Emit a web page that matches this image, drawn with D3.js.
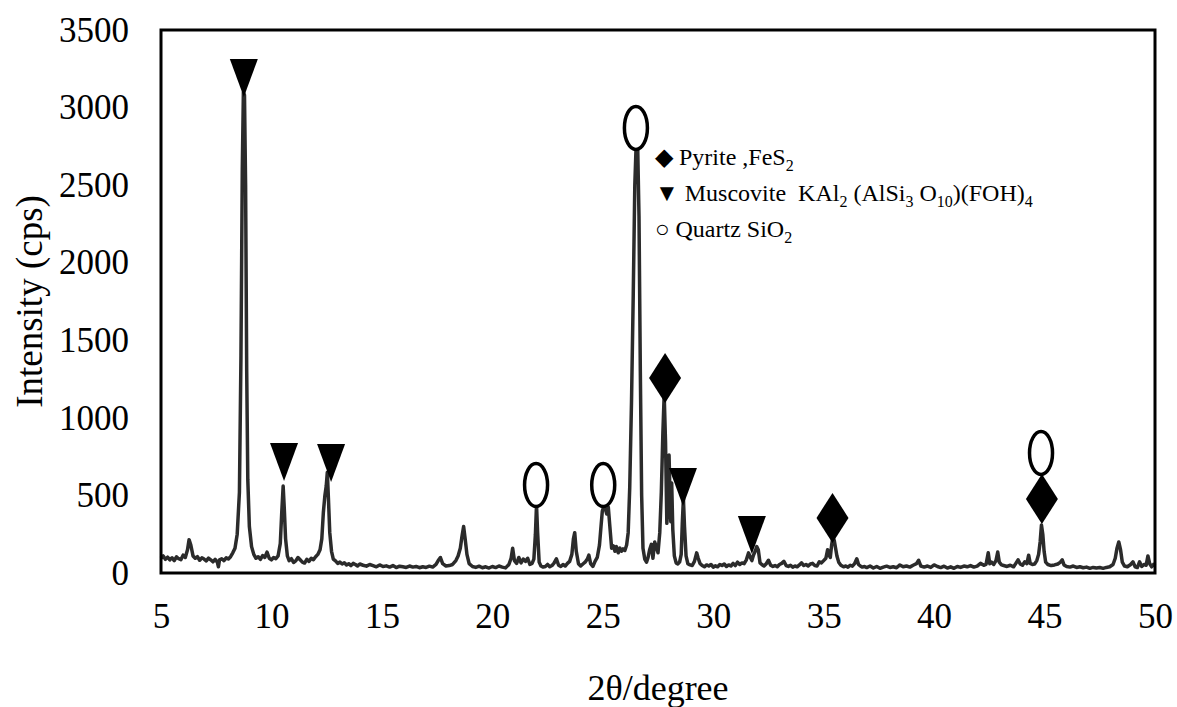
<!DOCTYPE html>
<html>
<head>
<meta charset="utf-8">
<script src="https://cdn.jsdelivr.net/npm/d3@7/dist/d3.min.js"></script>
<style>
  body { margin: 0; background: #fff; }
  svg text { font-family: "Liberation Serif", "Times New Roman", serif; }
</style>
</head>
<body>
<div id="chart"></div>
<script>
// XRD pattern, 2theta (degree) and intensity (cps)
const twoTheta = [
  5.0, 5.1, 5.2, 5.3, 5.4, 5.5, 5.6, 5.7, 5.8, 5.9, 6.0, 6.1, 6.2, 6.27, 6.35, 6.45, 6.55, 6.65, 6.75, 6.85,
  6.95, 7.05, 7.15, 7.25, 7.35, 7.45, 7.55, 7.6, 7.65, 7.75, 7.85, 7.95, 8.05, 8.15, 8.25, 8.35, 8.45, 8.55, 8.62, 8.68,
  8.73, 8.78, 8.83, 8.88, 8.93, 9.0, 9.1, 9.2, 9.3, 9.4, 9.5, 9.6, 9.7, 9.8, 9.9, 10.0, 10.1, 10.2, 10.3, 10.4,
  10.47, 10.53, 10.58, 10.64, 10.72, 10.8, 10.9, 11.0, 11.1, 11.2, 11.3, 11.4, 11.5, 11.6, 11.7, 11.8, 11.9, 12.0, 12.1, 12.2,
  12.28, 12.35, 12.42, 12.48, 12.53, 12.58, 12.64, 12.72, 12.8, 12.9, 13.0, 13.1, 13.2, 13.3, 13.4, 13.5, 13.6, 13.7, 13.8, 13.9,
  14.0, 14.15, 14.3, 14.45, 14.6, 14.75, 14.9, 15.05, 15.2, 15.35, 15.5, 15.65, 15.8, 15.95, 16.1, 16.25, 16.4, 16.55, 16.7, 16.85,
  17.0, 17.15, 17.3, 17.45, 17.55, 17.65, 17.75, 17.9, 18.05, 18.2, 18.35, 18.45, 18.55, 18.63, 18.7, 18.77, 18.85, 18.95, 19.1, 19.25,
  19.4, 19.55, 19.7, 19.85, 20.0, 20.15, 20.3, 20.45, 20.6, 20.75, 20.85, 20.92, 21.0, 21.1, 21.2, 21.3, 21.4, 21.5, 21.6, 21.7,
  21.8, 21.88, 21.95, 22.0, 22.05, 22.12, 22.2, 22.3, 22.4, 22.5, 22.6, 22.7, 22.8, 22.9, 23.0, 23.1, 23.2, 23.3, 23.4, 23.5,
  23.6, 23.67, 23.73, 23.8, 23.9, 24.0, 24.1, 24.2, 24.3, 24.37, 24.45, 24.55, 24.65, 24.75, 24.85, 24.92, 24.98, 25.05, 25.12, 25.18,
  25.25, 25.32, 25.4, 25.48, 25.55, 25.62, 25.7, 25.78, 25.85, 25.92, 26.0, 26.08, 26.15, 26.22, 26.3, 26.38, 26.45, 26.52, 26.58, 26.64,
  26.7, 26.76, 26.82, 26.9, 26.98, 27.05, 27.12, 27.2, 27.27, 27.35, 27.42, 27.5, 27.58, 27.65, 27.72, 27.78, 27.84, 27.9, 27.95, 28.0,
  28.04, 28.08, 28.12, 28.17, 28.24, 28.32, 28.4, 28.48, 28.55, 28.6, 28.65, 28.7, 28.77, 28.85, 28.95, 29.05, 29.15, 29.25, 29.32, 29.4,
  29.5, 29.6, 29.7, 29.8, 29.9, 30.0, 30.1, 30.2, 30.3, 30.4, 30.5, 30.6, 30.7, 30.8, 30.9, 31.0, 31.1, 31.2, 31.3, 31.4,
  31.5, 31.6, 31.68, 31.75, 31.82, 31.9, 31.97, 32.04, 32.12, 32.2, 32.3, 32.4, 32.5, 32.6, 32.7, 32.8, 32.9, 33.0, 33.1, 33.2,
  33.3, 33.4, 33.5, 33.6, 33.7, 33.8, 33.9, 34.0, 34.1, 34.2, 34.3, 34.4, 34.5, 34.6, 34.7, 34.8, 34.9, 35.0, 35.1, 35.18,
  35.24, 35.3, 35.36, 35.42, 35.48, 35.54, 35.6, 35.68, 35.78, 35.9, 36.0, 36.1, 36.2, 36.3, 36.4, 36.5, 36.58, 36.66, 36.75, 36.85,
  36.95, 37.1, 37.25, 37.4, 37.55, 37.7, 37.85, 38.0, 38.15, 38.3, 38.45, 38.6, 38.75, 38.9, 39.05, 39.2, 39.3, 39.4, 39.55, 39.7,
  39.85, 40.0, 40.15, 40.3, 40.45, 40.6, 40.75, 40.9, 41.05, 41.2, 41.35, 41.5, 41.65, 41.8, 41.95, 42.1, 42.25, 42.35, 42.45, 42.52,
  42.6, 42.7, 42.8, 42.88, 42.95, 43.05, 43.15, 43.3, 43.45, 43.6, 43.7, 43.8, 43.9, 44.0, 44.1, 44.2, 44.28, 44.35, 44.45, 44.55,
  44.65, 44.73, 44.8, 44.86, 44.92, 44.98, 45.05, 45.15, 45.3, 45.45, 45.6, 45.72, 45.8, 45.88, 46.0, 46.15, 46.3, 46.45, 46.6, 46.75,
  46.9, 47.05, 47.2, 47.35, 47.5, 47.65, 47.8, 47.95, 48.1, 48.2, 48.28, 48.36, 48.44, 48.52, 48.62, 48.75, 48.9, 49.0, 49.1, 49.2,
  49.3, 49.4, 49.5, 49.6, 49.68, 49.76, 49.85, 49.93, 50.0
];
const cps = [
  95, 110, 88, 102, 85, 98, 80, 104, 92, 86, 115, 100, 150, 215, 180, 110, 95, 105, 82, 98,
  90, 78, 96, 85, 72, 88, 70, 40, 85, 92, 80, 98, 90, 105, 130, 160, 250, 520, 1400, 2600,
  3100, 3080, 2500, 1300, 600, 300, 170, 120, 95, 105, 88, 112, 100, 135, 95, 85, 100, 92, 110, 190,
  400, 560, 420, 220, 110, 80, 92, 68, 78, 100, 85, 70, 64, 88, 75, 95, 86, 105, 120, 150,
  220, 390, 500, 560, 650, 480, 260, 140, 90, 78, 62, 70, 58, 66, 52, 60, 48, 62, 55, 45,
  58, 50, 44, 55, 48, 40, 52, 42, 46, 38, 48, 35, 44, 40, 36, 45, 38, 42, 34, 40,
  36, 44, 38, 55, 80, 100, 60, 45, 48, 55, 80, 110, 160, 240, 300, 220, 120, 60, 42, 36,
  44, 34, 40, 32, 42, 35, 45, 38, 33, 55, 95, 160, 80, 62, 100, 65, 90, 75, 95, 55,
  62, 90, 250, 440, 260, 70, 45, 38, 42, 55, 40, 48, 65, 92, 50, 42, 55, 45, 62, 75,
  120, 220, 260, 140, 60, 45, 58, 70, 90, 115, 60, 42, 75, 100, 180, 300, 400, 430, 410, 380,
  425, 300, 160, 175, 140, 170, 130, 160, 140, 155, 145, 180, 260, 550, 1100, 1800, 2500, 2800, 2750, 2300,
  1300, 500, 160, 90, 70, 100, 150, 185, 95, 200, 170, 130, 260, 520, 900, 1150, 850, 320, 420, 760,
  520, 330, 580, 280, 110, 65, 58, 72, 120, 320, 480, 300, 110, 60, 52, 48, 75, 130, 95, 62,
  48, 40, 52, 45, 55, 38, 46, 40, 55, 48, 58, 42, 52, 45, 62, 48, 70, 55, 65, 60,
  85, 130, 100, 80, 115, 140, 170, 150, 65, 55, 45, 60, 82, 50, 42, 48, 40, 55, 62, 75,
  48, 42, 50, 38, 45, 40, 52, 65, 48, 55, 45, 58, 62, 48, 45, 72, 65, 80, 95, 150,
  115, 100, 180, 230, 210, 160, 110, 70, 50, 40, 45, 38, 50, 44, 60, 92, 55, 45, 38, 42,
  35, 45, 32, 42, 30, 38, 44, 36, 40, 34, 52, 40, 45, 38, 50, 60, 82, 45, 38, 45,
  36, 52, 42, 35, 44, 32, 40, 30, 42, 36, 45, 40, 48, 38, 44, 62, 50, 55, 130, 60,
  70, 55, 80, 135, 70, 52, 48, 42, 50, 40, 62, 85, 58, 50, 72, 60, 115, 62, 55, 58,
  80, 120, 200, 310, 250, 140, 70, 55, 48, 52, 58, 70, 85, 52, 42, 38, 45, 36, 40, 34,
  38, 30, 36, 32, 35, 30, 36, 40, 55, 95, 160, 200, 150, 70, 45, 40, 55, 72, 40, 35,
  72, 42, 55, 50, 110, 60, 40, 55, 45
];

// phase markers: type, 2theta and height (cps) of the marker centre
const markerType = ["tri", "tri", "tri", "circ", "circ", "circ", "dia", "tri", "tri", "dia", "circ", "dia"];
const markerX = [8.75, 10.57, 12.7, 21.98, 25.02, 26.5, 27.82, 28.63, 31.75, 35.4, 44.84, 44.88];
const markerY = [3190, 716, 709, 567, 567, 2869, 1257, 555, 245, 355, 774, 477];

const xTicks = [5, 10, 15, 20, 25, 30, 35, 40, 45, 50];
const yTicks = [0, 500, 1000, 1500, 2000, 2500, 3000, 3500];

const W = 1177, H = 707;
const margin = { top: 30, right: 22, bottom: 134, left: 161 };

const svg = d3.select("#chart").append("svg")
  .attr("width", W)
  .attr("height", H);

const x = d3.scaleLinear().domain([5, 50]).range([margin.left, W - margin.right]);
const y = d3.scaleLinear().domain([0, 3500]).range([H - margin.bottom, margin.top]);

const pts = twoTheta.map((t, i) => ({ t: t, c: cps[i] }));

// tick labels only, the reference has no tick marks
svg.append("g")
  .attr("transform", `translate(0,${y(0)})`)
  .call(d3.axisBottom(x).tickValues(xTicks).tickSize(0).tickPadding(30).tickFormat(d3.format("d")))
  .call(g => g.select(".domain").remove())
  .attr("font-family", null)
  .selectAll("text")
  .attr("font-size", 35)
  .attr("fill", "#000");

svg.append("g")
  .attr("transform", `translate(${x(5)},0)`)
  .call(d3.axisLeft(y).tickValues(yTicks).tickSize(0).tickPadding(32).tickFormat(d3.format("d")))
  .call(g => g.select(".domain").remove())
  .attr("font-family", null)
  .selectAll("text")
  .attr("font-size", 35)
  .attr("fill", "#000");

// trace
svg.append("path")
  .datum(pts)
  .attr("fill", "none")
  .attr("stroke", "#2b2b2b")
  .attr("stroke-width", 3.5)
  .attr("stroke-linejoin", "round")
  .attr("d", d3.line().x(d => x(d.t)).y(d => y(d.c)));

// markers
const mk = svg.append("g");
markerType.forEach((m, i) => {
  const cx = x(markerX[i]), cy = y(markerY[i]);
  if (m === "tri") {
    mk.append("path")
      .attr("d", `M${cx - 14},${cy - 19}L${cx + 14},${cy - 19}L${cx},${cy + 19}Z`)
      .attr("fill", "#000");
  } else if (m === "dia") {
    mk.append("path")
      .attr("d", `M${cx},${cy - 25}L${cx + 16},${cy}L${cx},${cy + 25}L${cx - 16},${cy}Z`)
      .attr("fill", "#000");
  } else {
    mk.append("ellipse")
      .attr("cx", cx).attr("cy", cy)
      .attr("rx", 11.5).attr("ry", 21.5)
      .attr("fill", "#fff")
      .attr("stroke", "#000")
      .attr("stroke-width", 3.5);
  }
});

// frame
svg.append("rect")
  .attr("x", x(5)).attr("y", y(3500))
  .attr("width", x(50) - x(5)).attr("height", y(0) - y(3500))
  .attr("fill", "none")
  .attr("stroke", "#000")
  .attr("stroke-width", 3);

// legend
const legendRows = [
  [["\u25C6 Pyrite ,FeS", 0], ["2", 1]],
  [["\u25BC Muscovite  KAl", 0], ["2", 1], [" (AlSi", 0], ["3", 1], [" O", 0], ["10", 1], [")(FOH)", 0], ["4", 1]],
  [["\u25CB Quartz SiO", 0], ["2", 1]]
];
const lg = svg.append("g").attr("transform", "translate(655,0)");
legendRows.forEach((row, i) => {
  const t = lg.append("text")
    .attr("x", 0)
    .attr("y", 165 + i * 36)
    .attr("font-size", 24)
    .attr("fill", "#000")
    .attr("xml:space", "preserve");
  let sub = false;
  row.forEach(([s, isSub]) => {
    const ts = t.append("tspan").text(s);
    if (isSub && !sub) { ts.attr("dy", 6).attr("font-size", 16); sub = true; }
    else if (!isSub && sub) { ts.attr("dy", -6); sub = false; }
    else if (isSub) ts.attr("font-size", 16);
  });
});

// axis titles
svg.append("text")
  .attr("transform", `translate(42,${(y(0) + y(3500)) / 2}) rotate(-90)`)
  .attr("text-anchor", "middle")
  .attr("font-size", 37)
  .attr("fill", "#000")
  .text("Intensity (cps)");

svg.append("text")
  .attr("x", (x(5) + x(50)) / 2)
  .attr("y", 700)
  .attr("text-anchor", "middle")
  .attr("font-size", 36)
  .attr("fill", "#000")
  .text("2\u03B8/degree");
</script>
</body>
</html>
